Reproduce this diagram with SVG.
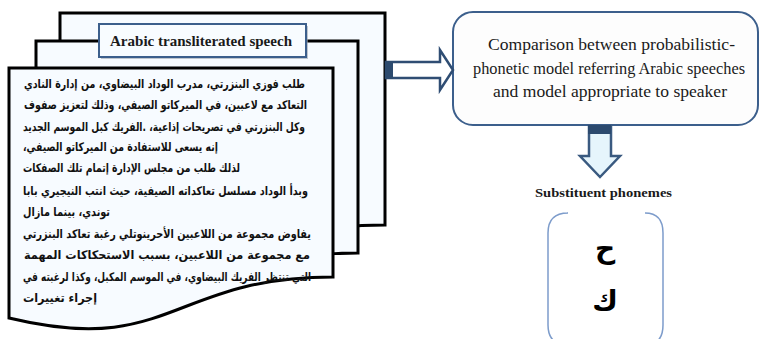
<svg xmlns="http://www.w3.org/2000/svg" width="760" height="339" viewBox="0 0 760 339">
<defs>
<style>
.doc{fill:#f7fbff;stroke:#000;stroke-width:3;stroke-linejoin:miter}
.ar{font-family:"DejaVu Sans",sans-serif;font-weight:bold;font-size:12px;fill:#111}
.en{font-family:"Liberation Serif",serif;fill:#1a1a1a}
.arrow{fill:#ffffff;stroke:#2f4d73;stroke-width:2.5;stroke-linejoin:miter}
.arrowd{fill:#e6f5fc;stroke:#3a5a80;stroke-width:2.5;stroke-linejoin:miter}
</style>
</defs>
<rect width="760" height="339" fill="#ffffff"/>
<g id="documents">
<path class="doc" d="M60,13 H385 V225 C222,225 222,305 60,264 Z"/>
<path class="doc" d="M36,41 H358 V253 C197,253 197,333 36,292 Z"/>
<path class="doc" d="M9,68 H333 V277 C171,277 171,357 9,318 Z"/>
</g>
<g id="label">
<rect x="101" y="26" width="207" height="33" fill="#9aa3ad" opacity="0.6"/>
<rect x="99" y="24" width="207" height="33" fill="#f8fcff" stroke="#3c5f8c" stroke-width="2"/>
<text class="en" x="110" y="46" font-size="14.5" font-weight="bold" textLength="182" lengthAdjust="spacingAndGlyphs">Arabic transliterated speech</text>
</g>
<g id="speech" class="ar">
<text x="24" y="88" textLength="281" lengthAdjust="spacingAndGlyphs">&#x202B;طلب فوزي البنزرتي، مدرب الوداد البيضاوي، من إدارة النادي&#x202C;</text>
<text x="24" y="109" textLength="283" lengthAdjust="spacingAndGlyphs">&#x202B;التعاكد مع لاعبين، في الميركاتو الصيفي، وذلك لتعزيز صفوف&#x202C;</text>
<text x="23" y="131" textLength="282" lengthAdjust="spacingAndGlyphs">&#x202B;وكل البنزرتي في تصريحات إذاعية، .الفريك كبل الموسم الجديد&#x202C;</text>
<text x="23" y="151" textLength="195" lengthAdjust="spacingAndGlyphs">&#x202B;إنه يسعى للاستفادة من الميركاتو الصيفي،&#x202C;</text>
<text x="23" y="172" textLength="217" lengthAdjust="spacingAndGlyphs">&#x202B;لذلك طلب من مجلس الإدارة إتمام تلك الصفكات&#x202C;</text>
<text x="23" y="195" textLength="285" lengthAdjust="spacingAndGlyphs">&#x202B;وبدأ الوداد مسلسل تعاكداته الصيفية، حيث انتب النيجيري بابا&#x202C;</text>
<text x="23" y="216" textLength="87" lengthAdjust="spacingAndGlyphs">&#x202B;توندي، بينما مازال&#x202C;</text>
<text x="23" y="238" textLength="288" lengthAdjust="spacingAndGlyphs">&#x202B;يفاوض مجموعة من اللاعبين الأحرينوتلي رغبة تعاكد البنزرتي&#x202C;</text>
<text x="24" y="259" textLength="286" lengthAdjust="spacingAndGlyphs">&#x202B;مع مجموعة من اللاعبين، بسبب الاستحكاكات المهمة&#x202C;</text>
<text x="23" y="281" textLength="288" lengthAdjust="spacingAndGlyphs">&#x202B;التي تنتظر الفريك البيضاوي، في الموسم المكبل، وكذا لرغبته في&#x202C;</text>
<text x="23" y="302" textLength="74" lengthAdjust="spacingAndGlyphs">&#x202B;إجراء تغييرات&#x202C;</text>
</g>
<g id="comparison">
<rect x="453" y="12" width="305" height="113" rx="20" ry="20" fill="#fdfdfd" stroke="#3c5f8c" stroke-width="2"/>
<text class="en" font-size="16" x="488" y="50" textLength="247" lengthAdjust="spacingAndGlyphs">Comparison between probabilistic-</text>
<text class="en" font-size="16" x="473" y="74" textLength="272" lengthAdjust="spacingAndGlyphs">phonetic model referring Arabic speeches</text>
<text class="en" font-size="16" x="493" y="97" textLength="234" lengthAdjust="spacingAndGlyphs">and model appropriate to speaker</text>
</g>
<g id="connectors">
<path class="arrow" d="M386,62 H440 V50 L453,70 L440,90 V78 H386 Z"/>
<rect x="385" y="61" width="8" height="18" fill="#2c4a6e"/>
<path class="arrowd" d="M589,126 V156 H580 L600,177 L620,156 H611 V126 Z"/>
<rect x="588" y="125" width="23" height="9" fill="#2c4a6e"/>
</g>
<g id="phonemes">
<text class="en" x="535" y="197" font-size="13.5" font-weight="bold" textLength="137" lengthAdjust="spacingAndGlyphs">Substituent phonemes</text>
<path d="M567,213 H568 Q548,213 548,233 V325 Q548,345 568,345 M645,213 Q663,213 663,233 V325 Q663,345 645,345" fill="none" stroke="#7d9ccb" stroke-width="1.5"/>
<text x="605" y="258" text-anchor="middle" font-family="'DejaVu Sans',sans-serif" font-size="28" font-weight="bold" fill="#000">ح</text>
<text x="605" y="310" text-anchor="middle" font-family="'DejaVu Sans',sans-serif" font-size="28" font-weight="bold" fill="#000">ك</text>
</g>
</svg>
